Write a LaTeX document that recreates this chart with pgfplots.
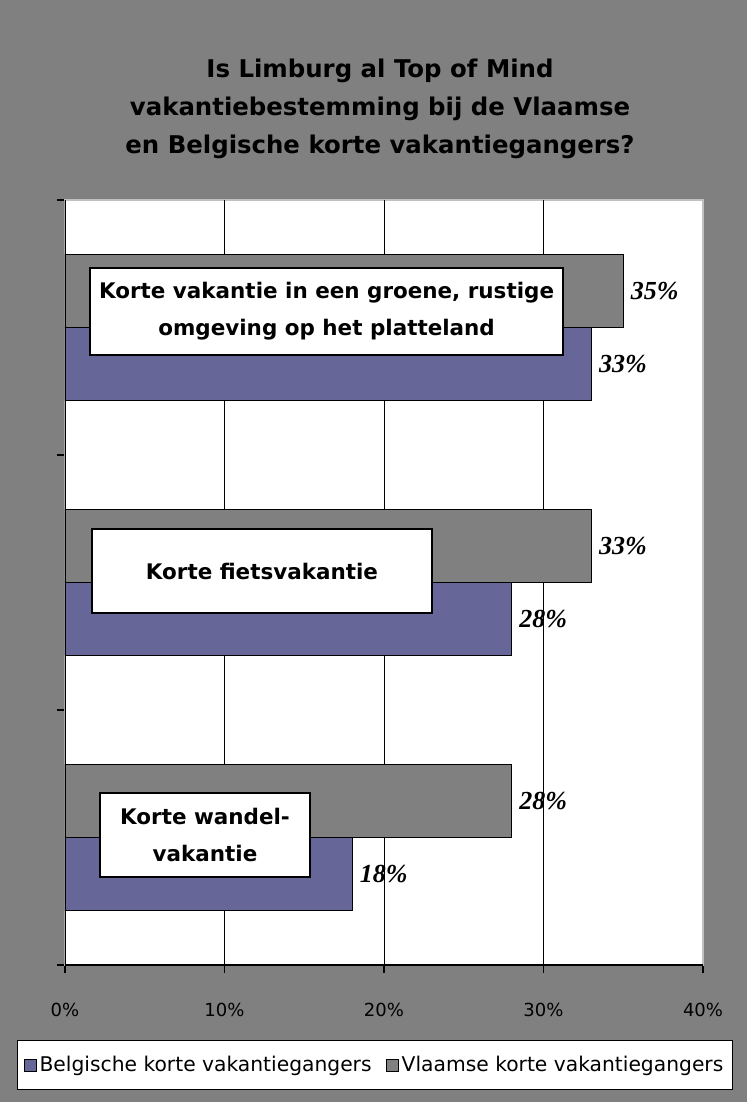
\documentclass[border=0pt]{standalone}
\usepackage{pgfplots}
\pgfplotsset{compat=1.18}
\usepackage{fontspec}
\setmainfont{DejaVu Sans}
\newfontfamily\valfont{Liberation Serif}
\definecolor{bgray}{HTML}{808080}
\definecolor{bblue}{HTML}{666699}
\definecolor{frame}{HTML}{C0C0C0}
\begin{document}
\begin{tikzpicture}[x=0.75pt,y=0.75pt]
\fill[bgray] (-65,-137) rectangle (682,965);
\useasboundingbox (-65,-137) rectangle (682,965);
\node[align=center, font=\bfseries\fontsize{18.3}{28.5}\selectfont] at (315,856)
  {Is Limburg al Top of Mind\\vakantiebestemming bij de Vlaamse\\en Belgische korte vakantiegangers?};
\begin{axis}[
  at={(0,0)}, anchor=south west, scale only axis,
  width=478.5pt, height=573.75pt,
  xbar, bar width=54.75pt,
  xmin=0, xmax=40, ymin=-0.5, ymax=2.5,
  xtick={0,10,20,30,40},
  xticklabel={\pgfmathprintnumber{\tick}\%},
  /pgf/number format/assume math mode=true,
  xticklabel style={font=\fontsize{13.5}{13.5}\selectfont, yshift=-19pt},
  ytick={-0.5,0.5,1.5,2.5}, yticklabels={},
  xtick pos=bottom, ytick pos=left,
  tick align=outside, major tick length=6pt,
  tick style={black, line width=0.9pt},
  extra x ticks={10,20,30}, extra x tick labels={},
  extra x tick style={xmajorgrids=true, major tick length=0pt,
     major grid style={black, line width=0.6pt}},
  axis line style={draw=frame, line width=0.8pt},
  axis background/.style={fill=white},
  point meta=x,
  nodes near coords={\pgfmathprintnumber{\pgfplotspointmeta}\%},
  nodes near coords style={font=\valfont\bfseries\itshape\fontsize{19.5}{19.5}\selectfont, anchor=west, xshift=2pt},
  legend style={at={(0.486,-0.131)}, anchor=center, draw=black, fill=white,
     line width=0.8pt, legend columns=2,
     font=\fontsize{15.2}{16}\selectfont, inner xsep=5pt, inner ysep=10pt,
     /tikz/every even column/.append style={column sep=9pt}},
  legend image code/.code={\draw[#1, draw=black, line width=0.6pt] (0pt,-4.5pt) rectangle (9pt,4.5pt);},
]
\addplot[fill=bblue, draw=black, line width=0.9pt, bar shift=-27.375pt] coordinates {(33,2) (28,1) (18,0)};
\addplot[fill=bgray, draw=black, line width=0.9pt, bar shift=27.375pt] coordinates {(35,2) (33,1) (28,0)};
\legend{Belgische korte vakantiegangers, Vlaamse korte vakantiegangers}
\draw[black, line width=1pt] (rel axis cs:0,1) -- (rel axis cs:0,0) -- (rel axis cs:1,0);
\node[draw=black, line width=0.9pt, fill=white, minimum width=354.75pt, minimum height=65.25pt,
  align=center, font=\bfseries\fontsize{16.1}{27.75}\selectfont] at (axis cs:16.4,2.063)
  {Korte vakantie in een groene, rustige\\omgeving op het platteland};
\node[draw=black, line width=0.9pt, fill=white, minimum width=255pt, minimum height=63pt,
  align=center, font=\bfseries\fontsize{16.1}{27.75}\selectfont] at (axis cs:12.35,1.045)
  {Korte fietsvakantie};
\node[draw=black, line width=0.9pt, fill=white, minimum width=157.5pt, minimum height=63pt,
  align=center, font=\bfseries\fontsize{16.1}{27.75}\selectfont] at (axis cs:8.78,0.01)
  {Korte wandel-\\vakantie};
\end{axis}
\end{tikzpicture}
\end{document}
